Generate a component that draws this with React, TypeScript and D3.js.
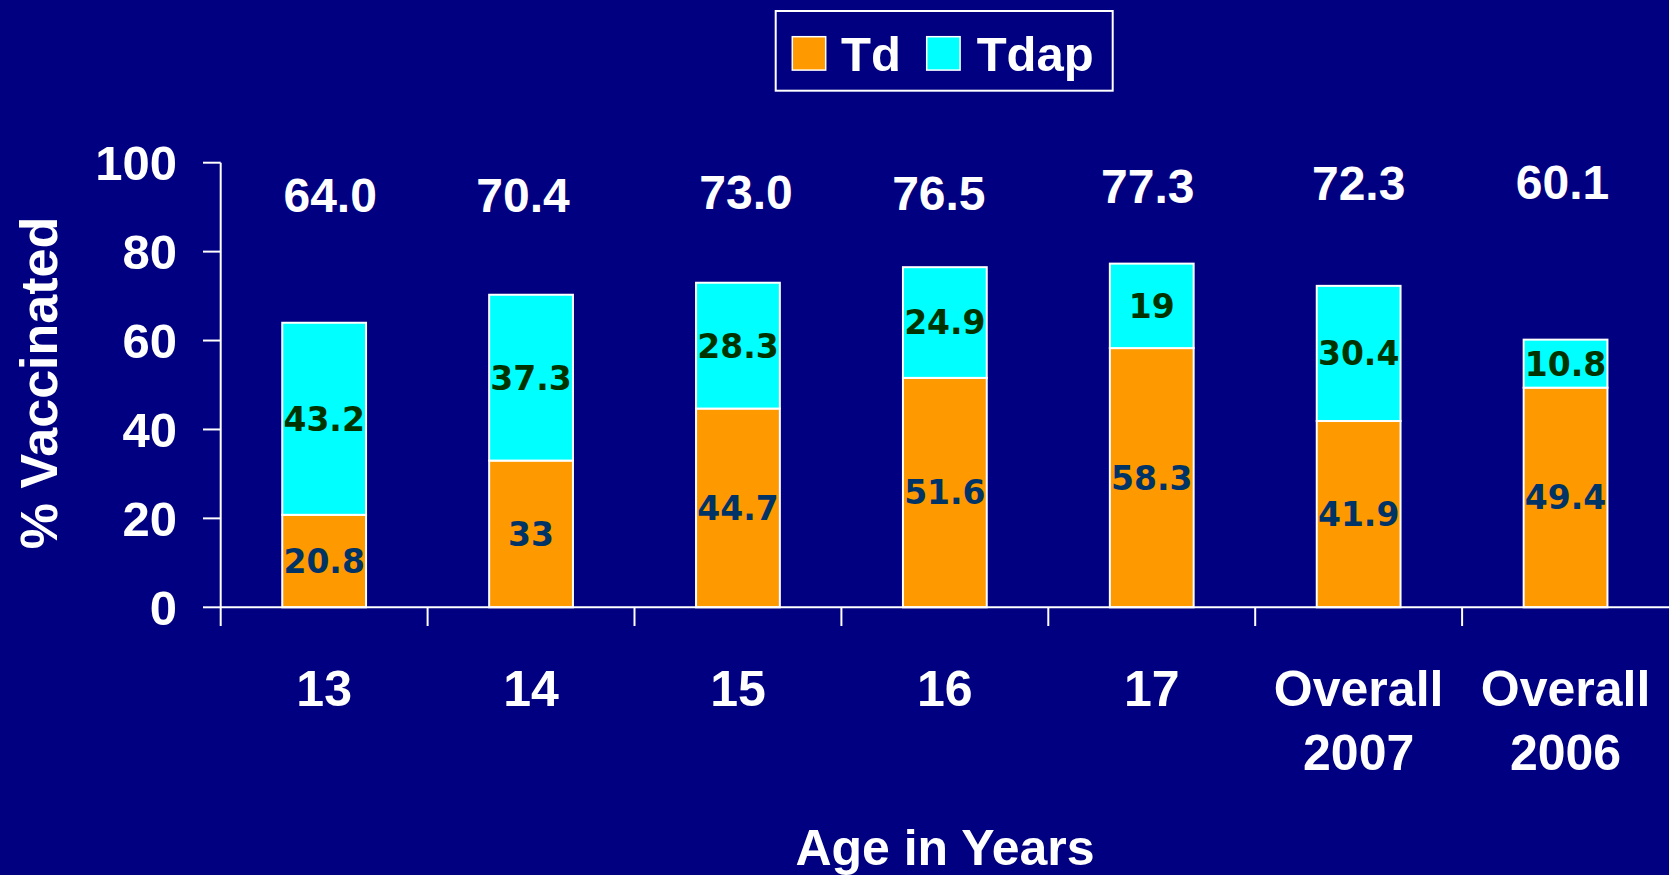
import { useEffect } from 'react';
import * as d3 from 'd3';

// chart values
const categories = ['13', '14', '15', '16', '17', 'Overall 2007', 'Overall 2006'];
const seriesNames = ['Td', 'Tdap'];
const tdValues = [20.8, 33, 44.7, 51.6, 58.3, 41.9, 49.4];
const tdapValues = [43.2, 37.3, 28.3, 24.9, 19, 30.4, 10.8];
const totalLabels = ['64.0', '70.4', '73.0', '76.5', '77.3', '72.3', '60.1'];
const yTicks = [0, 20, 40, 60, 80, 100];

// the total labels on the slide were placed by hand, a little off centre
const totalLabelBaseline = [212, 212, 209, 210, 203, 200, 199];
const totalLabelShift = [6, -8, 8, -6, -4, 0, -3];

const W = 1669;
const H = 875;
const BG = '#000080';
const SANS = '"Liberation Sans", Arial, sans-serif';
const VERDANA = '"DejaVu Sans", Verdana, sans-serif';
const colors: Record<string, string> = { Td: '#FF9900', Tdap: '#00FFFF' };
const labelColors: Record<string, string> = { Td: '#003366', Tdap: '#003300' };

export default function App() {
  useEffect(() => {
    document.body.style.margin = '0';
    document.body.style.background = BG;
  }, []);

  const left = 220.7;
  const right = W;
  const y0 = 607.3;
  const y100 = 162.7;

  const x = d3.scaleBand<string>()
    .domain(categories)
    .range([left, right])
    .paddingInner(0.595)
    .paddingOuter(0.2975);

  const y = d3.scaleLinear().domain([0, 100]).range([y0, y100]);

  const rows = categories.map((c, i) => ({ cat: c, Td: tdValues[i], Tdap: tdapValues[i] }));
  const stacked = d3.stack<any>().keys(seriesNames)(rows);

  const gap = (x.step() - x.bandwidth()) / 2;
  const boundaries = categories.slice(1).map((c) => (x(c) as number) - gap);
  const mid = (c: string) => (x(c) as number) + x.bandwidth() / 2;

  return (
    <svg width={W} height={H} style={{ display: 'block', background: BG }}>
      <rect x={0} y={0} width={W} height={H} fill={BG} />

      {/* legend */}
      <g>
        <rect x={775.7} y={11} width={337} height={79.7} fill={BG} stroke="#fff" strokeWidth={2} />
        <rect x={792.3} y={36.7} width={33.4} height={33.4} fill={colors.Td} stroke="#fff" strokeWidth={1.5} />
        <text x={841} y={71} fill="#fff" fontFamily={SANS} fontWeight="bold" fontSize={49}>Td</text>
        <rect x={926.7} y={36.7} width={33.4} height={33.4} fill={colors.Tdap} stroke="#fff" strokeWidth={1.5} />
        <text x={976.7} y={71} fill="#fff" fontFamily={SANS} fontWeight="bold" fontSize={49}>Tdap</text>
      </g>

      {/* bars */}
      {stacked.map((s) => (
        <g key={s.key}>
          {s.map((d, i) => {
            const bx = x(categories[i]) as number;
            const top = y(d[1]);
            const bottom = y(d[0]);
            const v = s.key === 'Td' ? tdValues[i] : tdapValues[i];
            return (
              <g key={i}>
                <rect x={bx} y={top} width={x.bandwidth()} height={bottom - top}
                  fill={colors[s.key]} stroke="#fff" strokeWidth={2} />
                <text x={bx + x.bandwidth() / 2} y={(top + bottom) / 2} dy="0.36em"
                  textAnchor="middle" fill={labelColors[s.key]} fontFamily={VERDANA}
                  fontWeight="bold" fontSize={33}>{String(v)}</text>
              </g>
            );
          })}
        </g>
      ))}

      {/* totals above bars */}
      {totalLabels.map((t, i) => (
        <text key={t} x={mid(categories[i]) + totalLabelShift[i]} y={totalLabelBaseline[i]}
          textAnchor="middle" fill="#fff" fontFamily={SANS} fontWeight="bold" fontSize={48}>{t}</text>
      ))}

      {/* axes */}
      <g stroke="#fff" strokeWidth={2}>
        <line x1={left} x2={left} y1={y100} y2={626} />
        <line x1={left} x2={right} y1={y0} y2={y0} />
        {yTicks.map((t) => (
          <line key={t} x1={203} x2={left} y1={y(t)} y2={y(t)} />
        ))}
        {boundaries.map((b, i) => (
          <line key={i} x1={b} x2={b} y1={y0} y2={626} />
        ))}
      </g>

      {yTicks.map((t) => (
        <text key={t} x={177} y={y(t)} dy="0.36em" textAnchor="end" fill="#fff"
          fontFamily={SANS} fontWeight="bold" fontSize={49}>{t}</text>
      ))}

      {categories.map((c) => {
        const parts = c.split(' ');
        return (
          <text key={c} textAnchor="middle" fill="#fff" fontFamily={SANS} fontWeight="bold" fontSize={50}>
            {parts.map((p, j) => (
              <tspan key={j} x={mid(c)} y={706 + j * 64}>{p}</tspan>
            ))}
          </text>
        );
      })}

      <text transform="translate(57,383) rotate(-90)" textAnchor="middle" fill="#fff"
        fontFamily={SANS} fontWeight="bold" fontSize={52}>% Vaccinated</text>

      <text x={945} y={865} textAnchor="middle" fill="#fff" fontFamily={SANS}
        fontWeight="bold" fontSize={50}>Age in Years</text>
    </svg>
  );
}
